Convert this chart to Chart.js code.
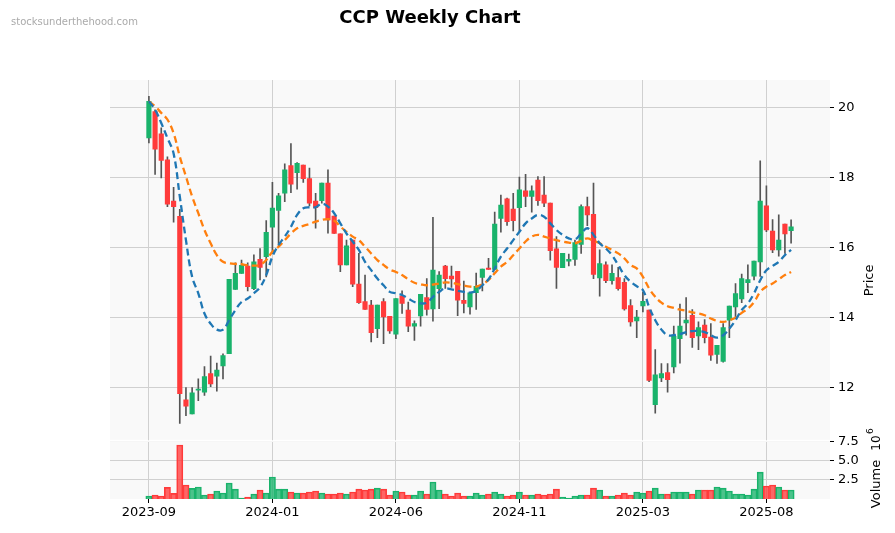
<!DOCTYPE html>
<html><head><meta charset="utf-8">
<script src="https://cdn.jsdelivr.net/npm/chart.js@4/dist/chart.umd.min.js"></script>
<style>
html,body{margin:0;padding:0;background:#fff;}
#wrap{position:relative;width:895px;height:533px;}
#title{position:absolute;left:0;width:860px;top:6px;text-align:center;font:bold 18px "DejaVu Sans";color:#000;}
#wm{position:absolute;left:11px;top:16px;font:10px "DejaVu Sans";color:#aaa;}
canvas{position:absolute;left:0;top:0;}
</style></head><body>
<div id="wrap"><canvas id="c" width="895" height="533"></canvas>
<div id="title">CCP Weekly Chart</div><div id="wm">stocksunderthehood.com</div></div>
<script>
const tickLabels = ["2023-09","2024-01","2024-06","2024-11","2025-03","2025-08"];
const tickIndex = [0,20,40,60,80,100];
const opens  = [19.14,19.9,19.26,18.52,17.34,16.9,11.65,11.25,11.93,11.87,12.4,12.33,12.62,12.97,14.81,15.27,15.48,14.83,15.67,15.75,16.59,17.07,17.56,18.35,18.15,18.37,17.98,17.34,17.35,17.85,16.91,16.4,15.51,16.22,14.96,14.46,14.36,13.69,14.46,14.04,13.53,14.62,14.22,13.76,14.05,14.58,14.25,14.83,15.48,15.19,15.33,14.5,14.31,14.72,15.15,15.42,15.38,16.84,17.4,17.11,17.15,17.63,17.47,17.94,17.51,17.28,15.97,15.43,15.62,15.67,16.1,17.18,16.96,15.14,15.51,15.06,15.15,15.01,14.35,13.91,14.34,14.22,11.51,12.28,12.43,12.59,13.4,13.85,14.07,13.48,13.79,13.45,12.95,12.75,13.93,14.31,14.54,15.0,15.19,15.6,17.2,16.48,15.94,16.68,16.49];
const closes = [20.19,18.82,18.5,17.25,17.18,11.83,11.47,11.85,11.95,12.32,12.11,12.5,12.92,15.1,15.27,15.5,14.89,15.6,15.44,16.44,17.14,17.49,18.23,17.82,18.42,17.98,17.28,17.15,17.85,16.8,16.41,15.51,16.06,14.96,14.43,14.24,13.57,14.36,14.02,13.62,14.55,14.41,13.76,13.83,14.67,14.24,15.36,15.22,15.12,15.11,14.5,14.41,14.71,14.9,15.39,15.38,16.68,17.22,16.75,16.78,17.66,17.47,17.63,17.35,17.28,15.92,15.44,15.84,15.67,16.15,17.18,16.94,15.24,15.55,15.06,15.27,14.83,14.25,13.88,14.02,14.47,12.21,12.37,12.4,12.23,13.47,13.76,13.93,13.43,13.72,13.43,12.93,13.21,13.72,14.33,14.69,15.12,15.09,15.62,17.34,16.51,15.94,16.22,16.4,16.6];
const highs  = [20.33,19.95,19.43,18.6,17.73,17.1,12.0,12.0,12.25,12.6,12.9,12.7,12.97,15.1,15.57,15.65,15.57,15.8,15.98,16.78,17.87,17.56,18.4,18.98,18.44,18.37,18.28,17.56,17.85,18.23,16.91,16.4,16.22,16.22,15.84,15.22,14.5,14.36,14.55,14.04,14.55,14.77,14.45,13.91,14.67,15.12,16.87,15.32,15.5,15.48,15.33,15.05,14.71,15.28,15.39,15.7,17.02,17.51,17.42,17.56,18.02,18.1,17.77,18.04,18.04,17.28,16.32,15.84,15.82,16.22,17.23,17.45,17.85,15.94,15.6,15.51,15.44,15.12,14.52,14.21,14.73,14.22,13.09,12.69,12.69,13.76,14.39,14.58,14.23,13.88,13.95,13.83,13.21,13.83,14.33,14.98,15.25,15.51,15.62,18.49,17.77,16.81,16.94,16.68,16.8];
const lows   = [19.0,18.1,18.0,17.18,16.73,10.98,11.2,11.25,11.63,11.78,12.03,11.9,12.25,12.97,14.81,15.27,14.77,14.8,15.08,15.17,15.84,16.06,17.32,17.58,17.68,17.87,17.2,16.56,17.28,16.42,16.41,15.32,15.51,14.89,14.41,14.24,13.31,13.43,13.26,13.55,13.4,14.12,13.6,13.35,13.76,14.07,13.9,14.26,14.84,14.87,14.06,14.14,14.1,14.24,14.77,15.38,15.38,16.45,16.64,16.48,16.49,17.18,17.02,17.21,17.18,15.65,14.84,15.43,15.48,15.5,15.84,16.63,15.12,14.62,15.0,14.96,14.79,14.22,13.76,13.43,14.17,12.17,11.27,12.17,11.87,12.42,12.7,13.5,13.15,13.09,13.28,12.78,12.69,12.73,13.43,14.03,14.43,14.72,15.08,15.18,16.46,15.86,15.76,15.84,16.13];
const volumes = [0.39,0.52,0.39,1.52,0.74,7.05,1.83,1.39,1.57,0.52,0.65,1.04,0.78,2.09,1.3,0.13,0.26,0.65,1.17,0.78,2.87,1.3,1.3,0.91,0.78,0.78,0.91,1.04,0.78,0.65,0.65,0.78,0.65,0.91,1.3,1.17,1.3,1.43,1.3,0.52,1.04,0.91,0.52,0.52,1.04,0.65,2.22,1.17,0.65,0.39,0.78,0.39,0.39,0.78,0.52,0.65,0.91,0.65,0.39,0.52,0.91,0.52,0.52,0.65,0.52,0.65,1.3,0.26,0.13,0.39,0.52,0.52,1.43,1.17,0.39,0.39,0.52,0.78,0.52,0.91,0.78,1.04,1.43,0.65,0.65,0.91,0.91,0.91,0.65,1.17,1.17,1.17,1.57,1.43,1.04,0.65,0.65,0.52,1.3,3.52,1.7,1.83,1.57,1.17,1.17];
const maFast = [20.19,19.95,19.57,19.14,18.7,17.47,16.22,15.17,14.7,14.12,13.83,13.66,13.66,13.93,14.22,14.45,14.55,14.7,14.87,15.22,15.75,16.08,16.32,16.6,16.94,17.13,17.16,17.16,17.26,17.18,16.99,16.7,16.41,16.18,15.94,15.6,15.36,15.12,14.93,14.74,14.7,14.65,14.55,14.45,14.41,14.43,14.6,14.74,14.84,14.81,14.77,14.74,14.72,14.77,14.93,15.1,15.41,15.75,15.98,16.22,16.46,16.7,16.84,16.94,16.89,16.7,16.51,16.37,16.27,16.24,16.41,16.56,16.37,16.13,15.98,15.79,15.51,15.22,15.03,14.9,14.79,14.31,13.93,13.66,13.5,13.5,13.53,13.59,13.62,13.62,13.59,13.5,13.43,13.5,13.69,13.93,14.22,14.41,14.7,15.07,15.36,15.48,15.6,15.79,15.94];
const maSlow = [20.19,20.05,19.86,19.67,19.28,18.61,18.04,17.47,16.99,16.51,16.13,15.79,15.6,15.56,15.54,15.53,15.5,15.49,15.51,15.65,15.89,16.03,16.22,16.41,16.56,16.63,16.68,16.75,16.8,16.82,16.78,16.61,16.46,16.32,16.22,16.03,15.84,15.65,15.51,15.38,15.31,15.22,15.1,15.0,14.96,14.93,14.95,14.98,15.01,15.0,14.96,14.92,14.89,14.89,14.96,15.08,15.27,15.46,15.6,15.79,15.98,16.18,16.32,16.37,16.32,16.27,16.22,16.18,16.15,16.13,16.2,16.27,16.2,16.13,16.03,15.94,15.84,15.7,15.51,15.41,15.17,14.84,14.6,14.43,14.33,14.28,14.23,14.2,14.15,14.12,14.07,13.98,13.91,13.88,13.93,14.0,14.14,14.26,14.45,14.74,14.89,14.98,15.1,15.22,15.31];

const G='#19b36b', R='#ff3b3b', GA='rgba(25,179,107,0.78)', RA='rgba(255,59,59,0.78)';
const up = opens.map((o,i)=>closes[i]>=o);
const idx = opens.map((_,i)=>i);
const F = "'DejaVu Sans'";
Chart.defaults.font.family = F;
Chart.defaults.animation = false;

const bgPlugin = {id:'bg', beforeDraw(c){
  const ctx=c.ctx, a=c.chartArea; ctx.save(); ctx.fillStyle='#f9f9f9';
  const y=c.scales.y, v=c.scales.yv;
  ctx.fillRect(a.left,y.top,a.right-a.left,y.bottom-y.top-1);
  ctx.fillRect(a.left,v.top+1,a.right-a.left,v.bottom-v.top-1);
  ctx.restore();
}, afterDraw(c){
  const ctx=c.ctx,a=c.chartArea,y=c.scales.y,v=c.scales.yv; ctx.save(); ctx.fillStyle='#fff';
  ctx.fillRect(a.left,y.bottom-0.5,a.right-a.left,1.5);
  ctx.fillStyle='#000'; ctx.font="13px "+F; ctx.textAlign='center'; ctx.textBaseline='middle';
  const lab=(t,x,yy)=>{ctx.save();ctx.translate(x,yy);ctx.rotate(-Math.PI/2);ctx.fillText(t,0,0);ctx.restore();};
  lab('Price',870,(y.top+y.bottom)/2+20);
  lab('Volume',877,484);
  ctx.font="12px "+F; lab('10',877,443); ctx.font="9px "+F; ctx.textAlign='left';
  ctx.save();ctx.translate(871,434);ctx.rotate(-Math.PI/2);ctx.fillText('6',0,0);ctx.restore();
  ctx.restore();
}};

new Chart(document.getElementById('c'), {
  plugins:[bgPlugin],
  data:{datasets:[
    {type:'bar', data: idx.map(i=>({x:i,y:[lows[i],highs[i]]})), backgroundColor:'#555', barThickness:1, grouped:false, yAxisID:'y', order:3},
    {type:'bar', data: idx.map(i=>({x:i,y:[opens[i],closes[i]]})), backgroundColor: idx.map(i=>up[i]?G:R), barThickness:4.5, grouped:false, yAxisID:'y', order:2, minBarLength:1},
    {type:'line', data: idx.map(i=>({x:i,y:maFast[i]})), borderColor:'#1f77b4', borderWidth:2.3, borderDash:[7,4], pointRadius:0, tension:0.4, yAxisID:'y', order:0},
    {type:'line', data: idx.map(i=>({x:i,y:maSlow[i]})), borderColor:'#ff7f0e', borderWidth:2.3, borderDash:[7,4], pointRadius:0, tension:0.4, yAxisID:'y', order:1},
    {type:'bar', data: idx.map(i=>({x:i,y:volumes[i]})), backgroundColor: idx.map(i=>up[i]?GA:RA), borderColor: idx.map(i=>up[i]?G:R), borderWidth:1, barThickness:6.2, grouped:false, yAxisID:'yv', order:4}
  ]},
  options:{
    responsive:false, animation:false,
    layout:{padding:{left:110,top:80,right:0,bottom:0}},
    plugins:{legend:{display:false}, tooltip:{enabled:false}},
    scales:{
      x:{type:'linear', min:-6.3, max:110.3, offset:false,
        afterBuildTicks(s){ s.ticks = tickIndex.map(v=>({value:v})); },
        afterFit(s){ s.height=34; },
        ticks:{autoSkip:false, maxRotation:0, color:'#000', font:{size:13}, padding:2,
          callback:(v)=>{const k=tickIndex.indexOf(v); return k>=0?tickLabels[k]:'';}},
        grid:{offset:false, color:'#d0d0d0', lineWidth:1, tickColor:'#000', tickLength:4},
        border:{display:false}},
      y:{position:'right', stack:'p', stackWeight:6.2, min:10.48, max:20.8, offset:false,
        afterBuildTicks(s){ s.ticks=[12,14,16,18,20].map(v=>({value:v})); },
        afterFit(s){ s.width=65; },
        ticks:{autoSkip:false, color:'#000', font:{size:13}, padding:4},
        grid:{color:'#d0d0d0', tickColor:'#000', tickLength:4},
        border:{display:false}},
      yv:{position:'right', stack:'p', stackWeight:1, min:0, max:7.6, offset:false,
        afterBuildTicks(s){ s.ticks=[2.5,5,7.5].map(v=>({value:v})); },
        afterFit(s){ s.width=65; },
        ticks:{autoSkip:false, color:'#000', font:{size:13}, padding:4, callback:v=>v.toFixed(1)},
        grid:{color:'#d0d0d0', tickColor:'#000', tickLength:4},
        border:{display:false}}
    }
  }
});
</script></body></html>
